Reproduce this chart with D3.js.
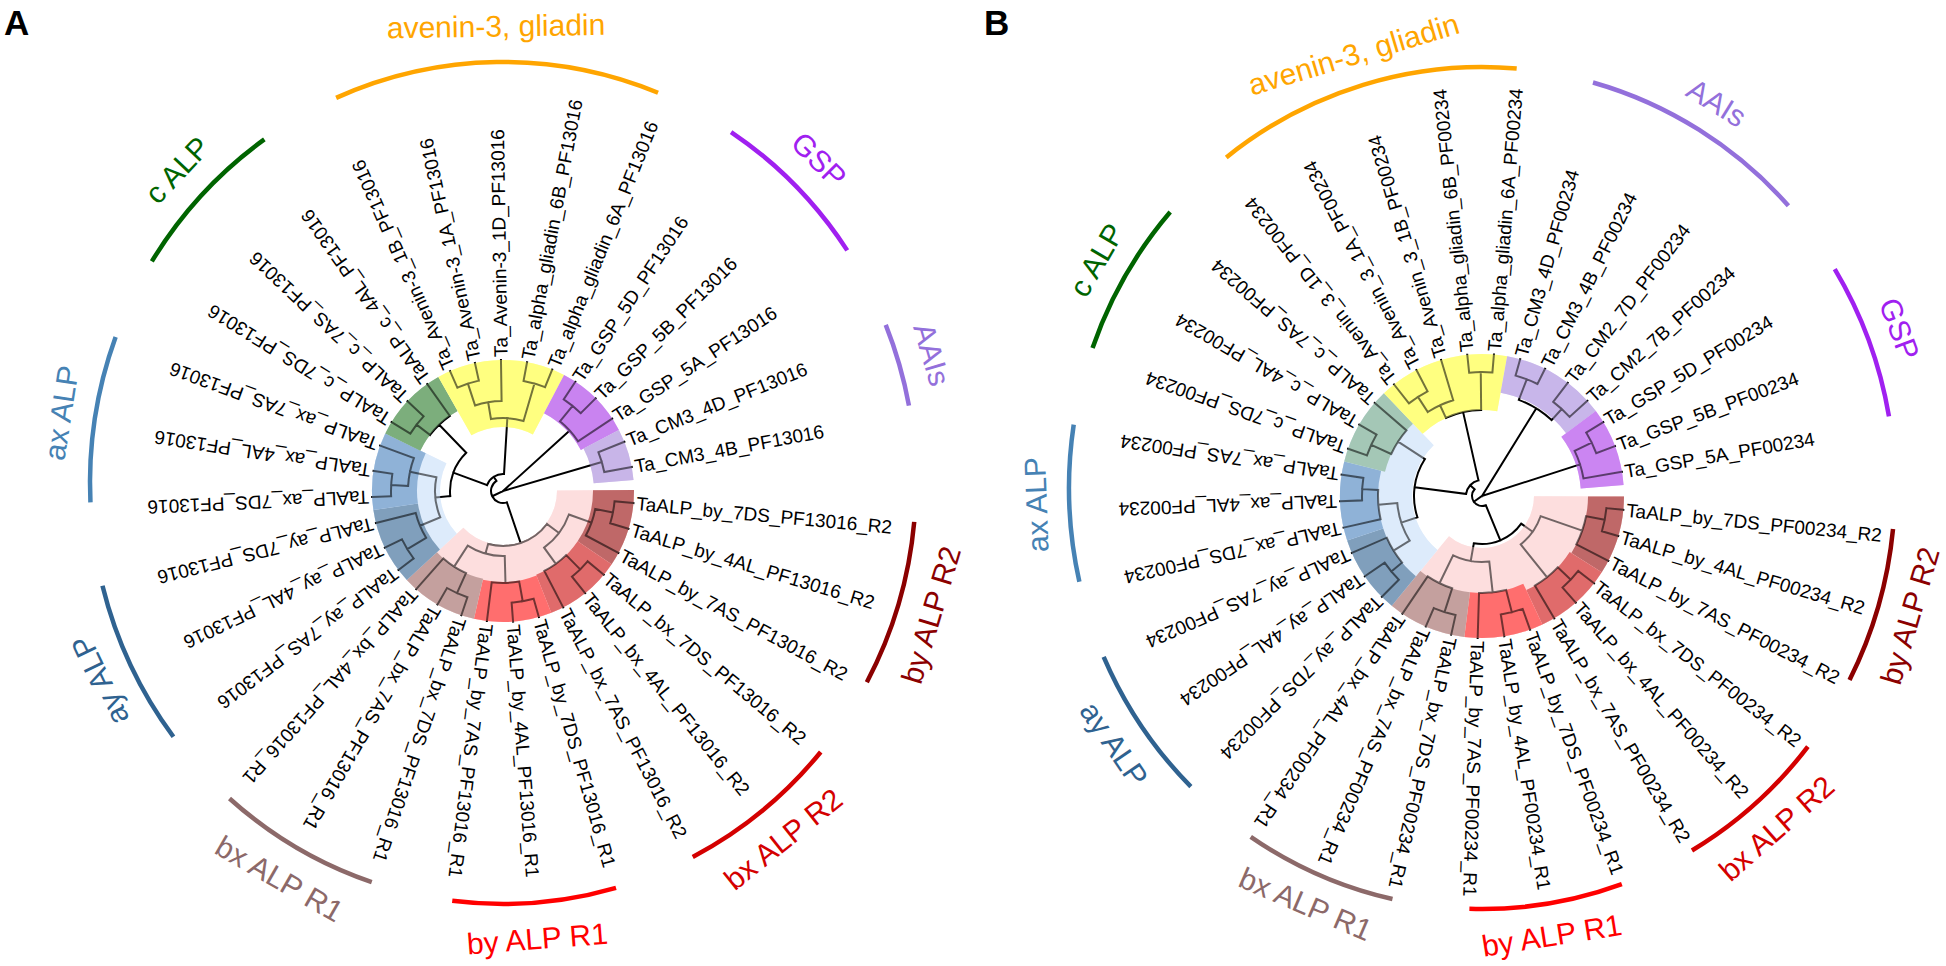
<!DOCTYPE html>
<html><head><meta charset="utf-8">
<script src="https://cdn.jsdelivr.net/npm/d3@7"></script>
<style>
body{margin:0;background:#fff}
svg{display:block}
text{font-family:"Liberation Sans",Arial,Helvetica,sans-serif}
</style>
</head><body>
<svg id="chart" width="1946" height="966"></svg>
<script>
// ---------------- DATA ----------------
// Trees: internal node = [depth, child, child, ...]; leaf = name. Depth measured from the centre.
const treeA = [0,
  [12,
    [55,
      [70,
        [94, [112, "TaALP_by_7DS_PF13016_R2", "TaALP_by_4AL_PF13016_R2"], "TaALP_by_7AS_PF13016_R2"],
        [90, [110, "TaALP_bx_7DS_PF13016_R2", "TaALP_bx_4AL_PF13016_R2"], "TaALP_bx_7AS_PF13016_R2"]
      ],
      [65,
        [92, [112, "TaALP_by_7DS_PF13016_R1", "TaALP_by_4AL_PF13016_R1"], "TaALP_by_7AS_PF13016_R1"],
        [90, [112, "TaALP_bx_7DS_PF13016_R1", "TaALP_bx_7AS_PF13016_R1"], "TaALP_bx_4AL_PF13016_R1"]
      ]
    ],
    [17,
      [53,
        [68,
          [90, [112, "TaALP_ay_7AS_PF13016", "TaALP_ay_4AL_PF13016"], "TaALP_ay_7DS_PF13016"],
          [95, [112, "TaALP_ax_7DS_PF13016", "TaALP_ax_4AL_PF13016"], "TaALP_ax_7AS_PF13016"]
        ],
        [92, [109, "TaALP_c_7DS_PF13016", "TaALP_c_7AS_PF13016"], "TaALP_c_4AL_PF13016"]
      ],
      [73,
        [90, [113, "Ta_Avenin-3_1B_PF13016", "Ta_Avenin-3_1A_PF13016"], "Ta_Avenin-3_1D_PF13016"],
        [112, "Ta_alpha_gliadin_6B_PF13016", "Ta_alpha_gliadin_6A_PF13016"]
      ]
    ]
  ],
  [90, [110, "Ta_GSP_5D_PF13016", "Ta_GSP_5B_PF13016"], "Ta_GSP_5A_PF13016"],
  [103, "Ta_CM3_4D_PF13016", "Ta_CM3_4B_PF13016"]
];

const treeB = [0,
  [10,
    [48,
      [62,
        [106, [125, "TaALP_by_7DS_PF00234_R2", "TaALP_by_4AL_PF00234_R2"], "TaALP_by_7AS_PF00234_R2"],
        [104, [122, "TaALP_bx_7DS_PF00234_R2", "TaALP_bx_4AL_PF00234_R2"], "TaALP_bx_7AS_PF00234_R2"]
      ],
      [66,
        [97, [120, "TaALP_by_7DS_PF00234_R1", "TaALP_by_4AL_PF00234_R1"], "TaALP_by_7AS_PF00234_R1"],
        [97, [122, "TaALP_bx_7DS_PF00234_R1", "TaALP_bx_7AS_PF00234_R1"], "TaALP_bx_4AL_PF00234_R1"]
      ]
    ],
    [16,
      [68,
        [85,
          [104, [118, "TaALP_ay_7DS_PF00234", "TaALP_ay_4AL_PF00234"], "TaALP_ay_7AS_PF00234"],
          [104, "TaALP_ax_7DS_PF00234", [120, "TaALP_ax_4AL_PF00234", "TaALP_ax_7AS_PF00234"]]
        ],
        [100, [122, "TaALP_c_7DS_PF00234", "TaALP_c_4AL_PF00234"], "TaALP_c_7AS_PF00234"]
      ],
      [86,
        [100, [118, "Ta_Avenin_3_1D_PF00234", "Ta_Avenin_3_1A_PF00234"], "Ta_Avenin_3_1B_PF00234"],
        [124, "Ta_alpha_gliadin_6B_PF00234", "Ta_alpha_gliadin_6A_PF00234"]
      ]
    ]
  ],
  [103, [125, "Ta_CM3_4D_PF00234", "Ta_CM3_4B_PF00234"], [118, "Ta_CM2_7D_PF00234", "Ta_CM2_7B_PF00234"]],
  [103, [122, "Ta_GSP_5D_PF00234", "Ta_GSP_5B_PF00234"], "Ta_GSP_5A_PF00234"]
];

// Highlighted clades: [key, first leaf, last leaf, start depth]
const sectorsA = [
  ["pink", 0, 11, 54], ["pale", 12, 17, 63],
  ["byR2", 0, 2, 90], ["bxR2", 3, 5, 90], ["byR1", 6, 8, 91], ["bxR1", 9, 11, 90],
  ["ay", 12, 14, 86], ["ax", 15, 17, 86], ["c", 18, 20, 92],
  ["yellow", 21, 25, 64], ["gsp", 26, 28, 88], ["aais", 29, 30, 91]
];
const sectorsB = [
  ["pink", 0, 11, 52], ["pale", 12, 20, 70],
  ["byR2", 0, 2, 106], ["bxR2", 3, 5, 104], ["byR1", 6, 8, 97], ["bxR1", 9, 11, 97],
  ["ay", 12, 14, 104], ["ax", 15, 17, 104], ["c", 18, 20, 100],
  ["yellow", 21, 25, 86], ["aais", 26, 29, 105], ["gsp", 30, 32, 99]
];

// Group brackets: [label, first leaf, last leaf]
const groupsA = [
  ["by ALP R2", 0, 2], ["bx ALP R2", 3, 5], ["by ALP R1", 6, 8], ["bx ALP R1", 9, 11],
  ["ay ALP", 12, 14], ["ax ALP", 15, 17], ["c ALP", 18, 20],
  ["avenin-3, gliadin", 21, 25], ["GSP", 26, 28], ["AAIs", 29, 30]
];
const groupsB = [
  ["by ALP R2", 0, 2], ["bx ALP R2", 3, 5], ["by ALP R1", 6, 8], ["bx ALP R1", 9, 11],
  ["ay ALP", 12, 14], ["ax ALP", 15, 17], ["c ALP", 18, 20],
  ["avenin-3, gliadin", 21, 25], ["AAIs", 26, 29], ["GSP", 30, 32]
];

// ---------------- STYLE ----------------
const sectorColorsA = {
  pink: "#FDDEDE", pale: "#DDEBFB", byR2: "#BF6868", bxR2: "#E06B6B", byR1: "#FF6E6E", bxR1: "#C4A09E",
  ay: "#809FBC", ax: "#8FB2D7", c: "#7CAE7C", yellow: "#FFFF80", gsp: "#C983F0", aais: "#C8B5E8"
};
const sectorColorsB = Object.assign({}, sectorColorsA, { c: "#A4C7B6", aais: "#C8B6EA", gsp: "#CB85F2" });
const groupColors = {
  "by ALP R2": "#8B0000", "bx ALP R2": "#D40000", "by ALP R1": "#FF0000", "bx ALP R1": "#8C6969",
  "ay ALP": "#2F6290", "ax ALP": "#4682B4", "c ALP": "#006400",
  "avenin-3, gliadin": "#FFA500", "GSP": "#A020F0", "AAIs": "#9370DB"
};

const panels = [
  { letter: "A", lx: 4, tree: treeA, sectors: sectorsA, groups: groupsA, colors: sectorColorsA,
    cx: 503, cy: 491, R: 131, leafDepth: 131, a0: 5.3, a1: 349.4,
    arcDy: -8, rx: 413, ry: 421, tox: 34, toy: 36 },
  { letter: "B", lx: 984, tree: treeB, sectors: sectorsB, groups: groupsB, colors: sectorColorsB,
    cx: 1482, cy: 496, R: 142, leafDepth: 142, a0: 5.6, a1: 350.2,
    arcDy: -8, rx: 413, ry: 421, tox: 33, toy: 32 }
];

// ---------------- DRAW ----------------
const svg = d3.select("#chart");
const toRad = d => d * Math.PI / 180;

function build(t) {
  return typeof t === "string" ? { name: t } : { depth: t[0], children: t.slice(1).map(build) };
}

panels.forEach(p => {
  const root = d3.hierarchy(build(p.tree));
  const leaves = root.leaves();
  const n = leaves.length;
  const ang = d3.scaleLinear().domain([0, n - 1]).range([p.a0, p.a1]);
  const rad = d3.scaleLinear().domain([0, p.leafDepth]).range([0, p.R]);
  const step = (p.a1 - p.a0) / (n - 1);
  leaves.forEach((d, i) => { d.theta = ang(i); });
  root.eachAfter(d => {
    if (d.children) d.theta = d3.mean(d.children, c => c.theta);
    d.r = d.children ? rad(d.data.depth) : rad(p.leafDepth);
  });

  const g = svg.append("g").attr("transform", `translate(${p.cx},${p.cy})`);
  const arc = d3.arc();
  const drawSectors = sel => {
    sel.selectAll("path").data(p.sectors).join("path")
      .attr("d", s => arc({
        innerRadius: rad(s[3]), outerRadius: p.R,
        startAngle: toRad(ang(s[1]) - step / 2 + 90), endAngle: toRad(ang(s[2]) + step / 2 + 90)
      }))
      .attr("fill", s => p.colors[s[0]]);
  };
  g.append("g").call(drawSectors);

  // tree branches
  const path = d3.path();
  root.descendants().forEach(d => {
    const t = toRad(d.theta);
    if (d.parent) {
      path.moveTo(d.parent.r * Math.cos(t), d.parent.r * Math.sin(t));
      path.lineTo(d.r * Math.cos(t), d.r * Math.sin(t));
    }
    if (d.children && d.r > 0) {
      const ts = d.children.map(c => toRad(c.theta));
      const t0 = d3.min(ts), t1 = d3.max(ts);
      path.moveTo(d.r * Math.cos(t0), d.r * Math.sin(t0));
      path.arc(0, 0, d.r, t0, t1);
    }
  });
  g.append("path").attr("d", path.toString())
    .attr("fill", "none").attr("stroke", "#000").attr("stroke-width", 2).attr("stroke-linecap", "square");

  // translucent copy of the highlights over the branches
  g.append("g").attr("opacity", 0.45).call(drawSectors);

  // leaf labels
  g.selectAll("text.leaf").data(leaves).join("text")
    .attr("class", "leaf")
    .attr("transform", d => `rotate(${d.theta}) translate(${p.R + 3},0)`)
    .attr("dy", "0.35em")
    .attr("font-size", 19)
    .attr("fill", "#000")
    .text(d => d.data.name);

  // group brackets and labels
  const ag = svg.append("g").attr("transform", `translate(${p.cx},${p.cy + p.arcDy})`);
  p.groups.forEach(([name, i0, i1]) => {
    const t0 = toRad(ang(i0)), t1 = toRad(ang(i1));
    const x0 = p.rx * Math.cos(t0), y0 = p.ry * Math.sin(t0);
    const x1 = p.rx * Math.cos(t1), y1 = p.ry * Math.sin(t1);
    ag.append("path")
      .attr("d", `M${x0},${y0}A${p.rx},${p.ry} 0 0 1 ${x1},${y1}`)
      .attr("fill", "none").attr("stroke", groupColors[name]).attr("stroke-width", 4.5);
    const tm = (ang(i0) + ang(i1)) / 2;
    const norm = ((tm % 360) + 360) % 360;
    const rot = (norm > 0 && norm < 150) ? tm - 90 : tm + 90;
    const lx = (p.rx + p.tox) * Math.cos(toRad(tm)), ly = (p.ry + p.toy) * Math.sin(toRad(tm));
    ag.append("text")
      .attr("transform", `translate(${lx},${ly}) rotate(${rot})`)
      .attr("text-anchor", "middle").attr("dy", "0.35em")
      .attr("font-size", 30).attr("fill", groupColors[name])
      .text(name);
  });

  svg.append("text").attr("x", p.lx).attr("y", 35)
    .attr("font-size", 35).attr("font-weight", "bold").attr("fill", "#000")
    .text(p.letter);
});
</script>
</body></html>
